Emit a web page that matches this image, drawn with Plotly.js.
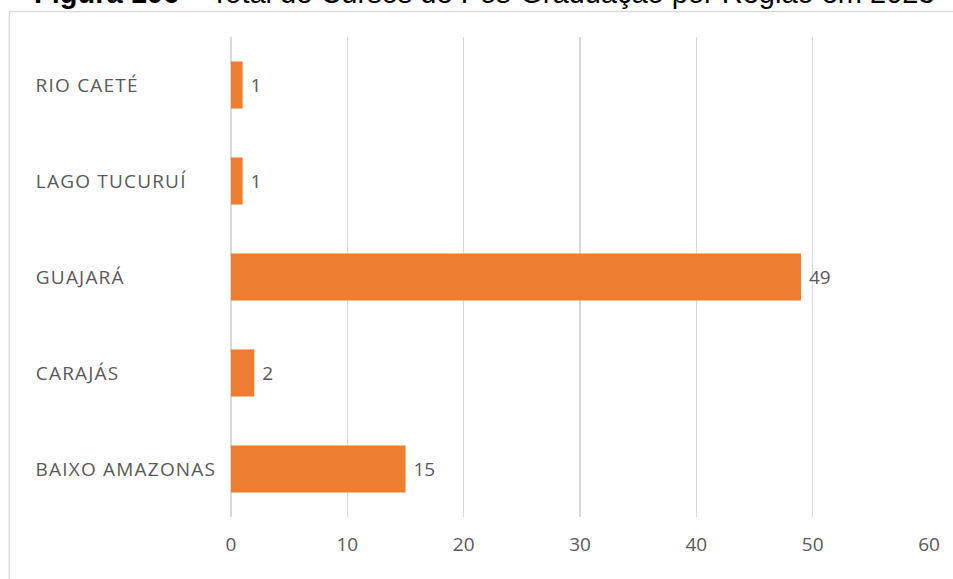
<!DOCTYPE html>
<html>
<head>
<meta charset="utf-8">
<script src="https://cdn.plot.ly/plotly-3.0.1.min.js"></script>
<style>html,body{margin:0;padding:0;background:#fff;overflow:hidden}#chart{width:953px;height:579px}
#chart g.annotation:not(:last-child) text{letter-spacing:1.2px}</style>
</head>
<body>
<div id="chart"></div>
<script>
var categories = ["BAIXO AMAZONAS", "CARAJÁS", "GUAJARÁ", "LAGO TUCURUÍ", "RIO CAETÉ"];
var values = [15, 2, 49, 1, 1];
var xTicks = [0, 10, 20, 30, 40, 50, 60];
var titleBold = "Figura 106";
var titleRest = " – Total de Cursos de Pós-Graduação por Região em 2023";

var labelFont = {family: "Open Sans, sans-serif", size: 19, color: "#595959"};

var annotations = categories.map(function (c) {
  return {
    xref: "paper", yref: "y", x: -0.2830, y: c, xanchor: "left", yanchor: "middle",
    xshift: c.length * 0.6,
    text: c, showarrow: false, font: labelFont
  };
});
annotations.push({
  xref: "paper", yref: "paper", x: -0.285, y: 1.091, xanchor: "left", yanchor: "middle",
  text: "<b>" + titleBold + "</b>" + titleRest, showarrow: false,
  font: {family: "Liberation Sans, Arial, sans-serif", size: 29, color: "#000000"}
});

var trace = {
  type: "bar", orientation: "h",
  x: values, y: categories,
  marker: {color: "#ED7D31"},
  text: values.map(function (v) { return "\u00a0" + v; }), textposition: "outside", cliponaxis: false,
  textfont: labelFont,
  hoverinfo: "none"
};

var layout = {
  width: 953, height: 579,
  margin: {l: 231, r: 24, t: 37, b: 62},
  paper_bgcolor: "#ffffff", plot_bgcolor: "#ffffff",
  showlegend: false,
  bargap: 0.51,
  xaxis: {
    range: [0, 60], tickvals: xTicks, ticktext: xTicks.map(String),
    showgrid: true, gridcolor: "#d9d9d9", gridwidth: 1.5,
    zeroline: true, zerolinecolor: "#d9d9d9", zerolinewidth: 1.5,
    showline: false, ticks: "", ticklabelstandoff: 14,
    tickfont: labelFont, fixedrange: true
  },
  yaxis: {
    type: "category", categoryorder: "array", categoryarray: categories,
    showticklabels: false, showgrid: false, zeroline: false, showline: false, ticks: "",
    range: [-0.5, 4.5], fixedrange: true
  },
  annotations: annotations,
  shapes: [{
    type: "rect", xref: "paper", yref: "paper",
    x0: -0.3175, x1: 1.1, y0: -0.15, y1: 1.053,
    line: {color: "#d9d9d9", width: 1.5}, fillcolor: "rgba(0,0,0,0)", layer: "below"
  }]
};

Plotly.newPlot("chart", [trace], layout, {displayModeBar: false, staticPlot: true});
</script>
</body>
</html>
